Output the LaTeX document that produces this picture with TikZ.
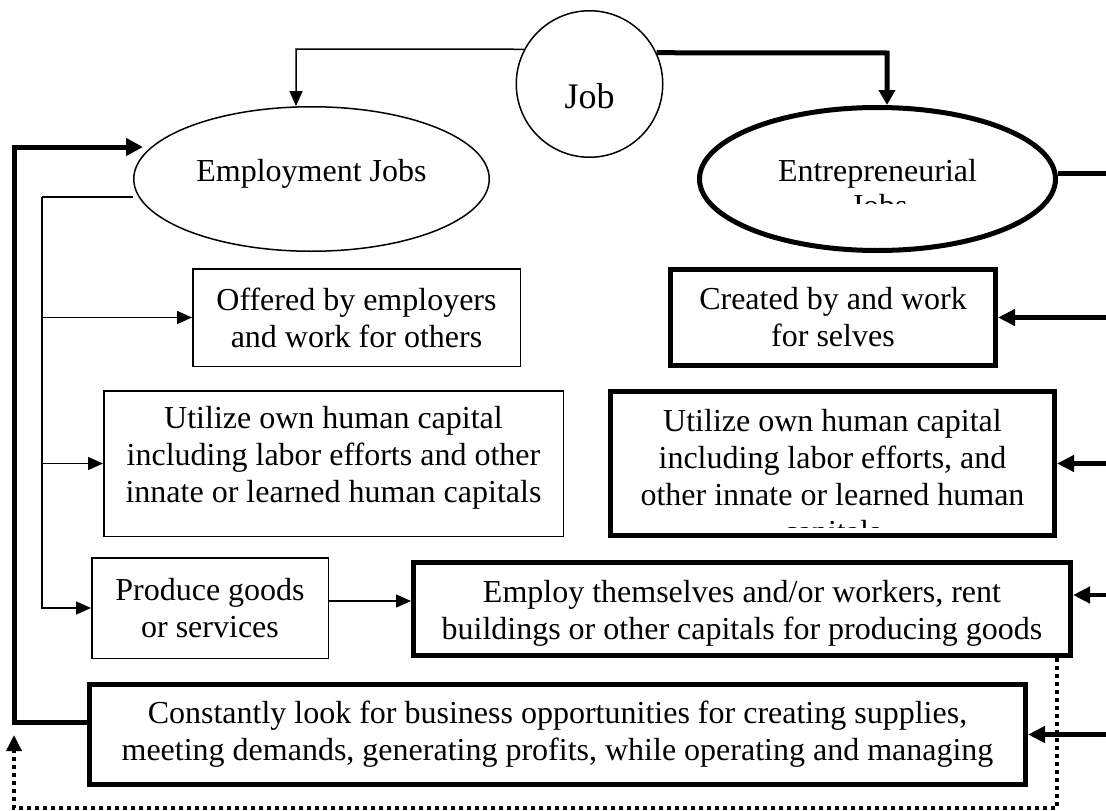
\documentclass[tikz,border=0pt]{standalone}
\usepackage{fontspec}
\setmainfont{Liberation Serif}
\usetikzlibrary{shapes.geometric,arrows.meta}
\begin{document}
\begin{tikzpicture}[x=1pt,y=-1pt,
  thinln/.style={line width=1.5pt},
  thickln/.style={line width=5pt},
  thinarr/.style={thinln,-{Triangle[length=15pt,width=13pt]}},
  thickarr/.style={line width=4.5pt,-{Triangle[length=17pt,width=16pt]}},
  dotln/.style={line width=3.5pt,dash pattern=on 4pt off 4pt,-{Triangle[length=16pt,width=15pt]}},
  txt/.style={font=\fontsize{32}{37}\selectfont,align=center},
  thinbox/.style={draw,line width=1.5pt,txt,inner sep=0pt},
  thickbox/.style={draw,line width=5pt,txt,inner sep=0pt},
  flat/.style={text height=0pt,text depth=0pt}
]
\useasboundingbox (0,0) rectangle (1106,811);
\clip (0,0) rectangle (1106,811);

% nodes
\node[circle,draw,line width=1.5pt,minimum size=146.5pt,inner sep=0pt,
      font=\fontsize{36}{40}\selectfont,flat] (job) at (589.5,84) {\raisebox{-24pt}{Job}};
\node[ellipse,draw,line width=1.5pt,minimum width=355.5pt,minimum height=144.5pt,
      inner sep=0pt,txt,flat] (emp) at (311.5,179) {\raisebox{-2pt}{Employment Jobs}};
\node[ellipse,draw,line width=5pt,minimum width=356pt,minimum height=143pt,
      inner sep=0pt,txt,flat] (ent) at (877.5,179) {\raisebox{-2pt}{Entrepreneurial}};
\begin{scope}
  \clip (700,150) rectangle (1055,203);
  \node[txt,inner sep=0pt,flat] (entjobs) at (879,216) {Jobs};
\end{scope}

\node[thinbox,minimum width=327.5pt,minimum height=97.5pt] (offer) at (356.5,317.5)
  {Offered by employers\\and work for others};
\node[thinbox,minimum width=459.5pt,minimum height=145.5pt,
      label={[txt,inner sep=0pt,yshift=6pt]center:Utilize own human capital\\including labor efforts and other\\innate or learned human capitals}]
  (eutil) at (333.5,463.5) {};
\node[thinbox,minimum width=236.5pt,minimum height=100.5pt] (produce) at (210,608)
  {Produce goods\\or services};
\node[thickbox,minimum width=325pt,minimum height=96pt] (created) at (833,317.5)
  {Created by and work\\for selves};
\node[thickbox,minimum width=444pt,minimum height=144pt] (rutil) at (832.5,463.5) {};
\begin{scope}
  \clip (612,392) rectangle (1053,527);
  \node[txt,inner sep=0pt] (rutiltext) at (832.5,479)
    {Utilize own human capital\\including labor efforts, and\\other innate or learned human\\capitals};
\end{scope}
\node[thickbox,minimum width=657pt,minimum height=93pt,
      label={[txt,inner sep=0pt,yshift=-4pt]center:Employ themselves and/or workers, rent\\buildings or other capitals for producing goods}]
  (employ) at (742,609) {};
\node[thickbox,minimum width=936pt,minimum height=100pt] (const) at (557.5,734.5)
  {Constantly look for business opportunities for creating supplies,\\meeting demands, generating profits, while operating and managing};

% coordinates
\coordinate (jl) at (296,49);
\coordinate (jr) at (887,53);
\coordinate (bt) at (42,197);
\coordinate (redge) at (1112,0);
\coordinate (entR) at ([yshift=6pt]ent.east);
\coordinate (empR) at ([yshift=14pt]employ.east);
\coordinate (prodR) at ([yshift=7pt]produce.east);
\coordinate (lb) at (14,722);
\coordinate (lt) at (14,147);
\coordinate (d1) at (1057,808);
\coordinate (d2) at (14,808);
\coordinate (dt) at (14,735);

% connectors from Job
\draw[thinarr] (job.152) -- (jl) -- (jl |- emp.north);
\draw[line width=5pt,-{Triangle[length=15pt,width=16pt]}] (job.25) -- (jr) -- (jr |- ent.north);

% employment branch
\draw[thinln] (emp.west |- bt) -- (bt);
\draw[thinarr] (bt) |- (produce.west);
\draw[thinarr] (bt |- offer.west) -- (offer.west);
\draw[thinarr] (bt |- eutil.west) -- (eutil.west);
\draw[thinarr] (prodR) -- (prodR -| employ.west);

% entrepreneurial side
\draw[thickln] (entR) -- (entR -| redge);
\draw[thickarr] (created.east -| redge) -- (created.east);
\draw[thickarr] (rutil.east -| redge) -- (rutil.east);
\draw[thickarr] (empR -| redge) -- (empR);
\draw[thickarr] (const.east -| redge) -- (const.east);

% feedback loops
\draw[thickln,-{Triangle[length=17pt,width=17pt]},shorten >=-10pt]
  (lb -| const.west) -- (lb) -- (lt) -- (lt -| emp.west);
\draw[dotln] (employ.south -| d1) -- (d1) -- (d2) -- (dt);
\end{tikzpicture}
\end{document}
